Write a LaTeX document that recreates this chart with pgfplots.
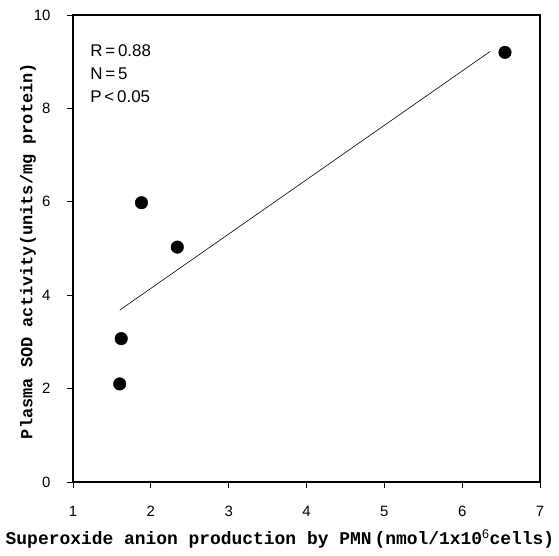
\documentclass[border=0pt]{standalone}
\usepackage{pgfplots}
\pgfplotsset{compat=1.18}
\usepackage{fontspec}
\setmainfont{Liberation Sans}
\newfontfamily\labfont{Liberation Mono}
\begin{document}
\begin{tikzpicture}
\begin{axis}[
  scale only axis,
  width=467bp, height=467bp,
  xmin=1, xmax=7, ymin=0, ymax=10,
  xtick={1,2,3,4,5,6,7},
  ytick={0,2,4,6,8,10},
  axis line style={line width=1.3pt},
  tick style={line width=0.8pt, black},
  tick align=outside,
  tickwidth=6bp,
  xtick pos=bottom, ytick pos=left,
  /pgf/number format/assume math mode=true,
  xticklabel style={font=\fontsize{15}{15}\selectfont, black, yshift=-15bp},
  yticklabel style={font=\fontsize{15}{15}\selectfont, black, xshift=-13bp},
  clip=false,
]
\addplot[only marks, mark=*, mark size=6.3bp, black] coordinates {
  (1.60,2.10) (1.62,3.07) (1.88,5.98) (2.34,5.03) (6.55,9.20)
};
\addplot[black, line width=0.6pt] coordinates {(1.60,3.68) (6.36,9.22)};
\node[anchor=north west, align=left, font=\fontsize{17}{23}\selectfont, inner sep=0pt] at (axis cs:1.22,9.36) {R\,=\,0.88\\N\,=\,5\\P\,<\,0.05};
\end{axis}
\node[font=\labfont\bfseries\fontsize{18}{18}\selectfont] at (207bp,-57bp) {Superoxide anion production by PMN\,(nmol/1x10$^{\mathrm{6}}$cells)};
\node[rotate=90, font=\labfont\bfseries\fontsize{17}{17}\selectfont] at (-45bp,231bp) {Plasma SOD activity(units/mg protein)};
\path (-73bp,-74bp) rectangle (486bp,482bp);
\end{tikzpicture}
\end{document}
